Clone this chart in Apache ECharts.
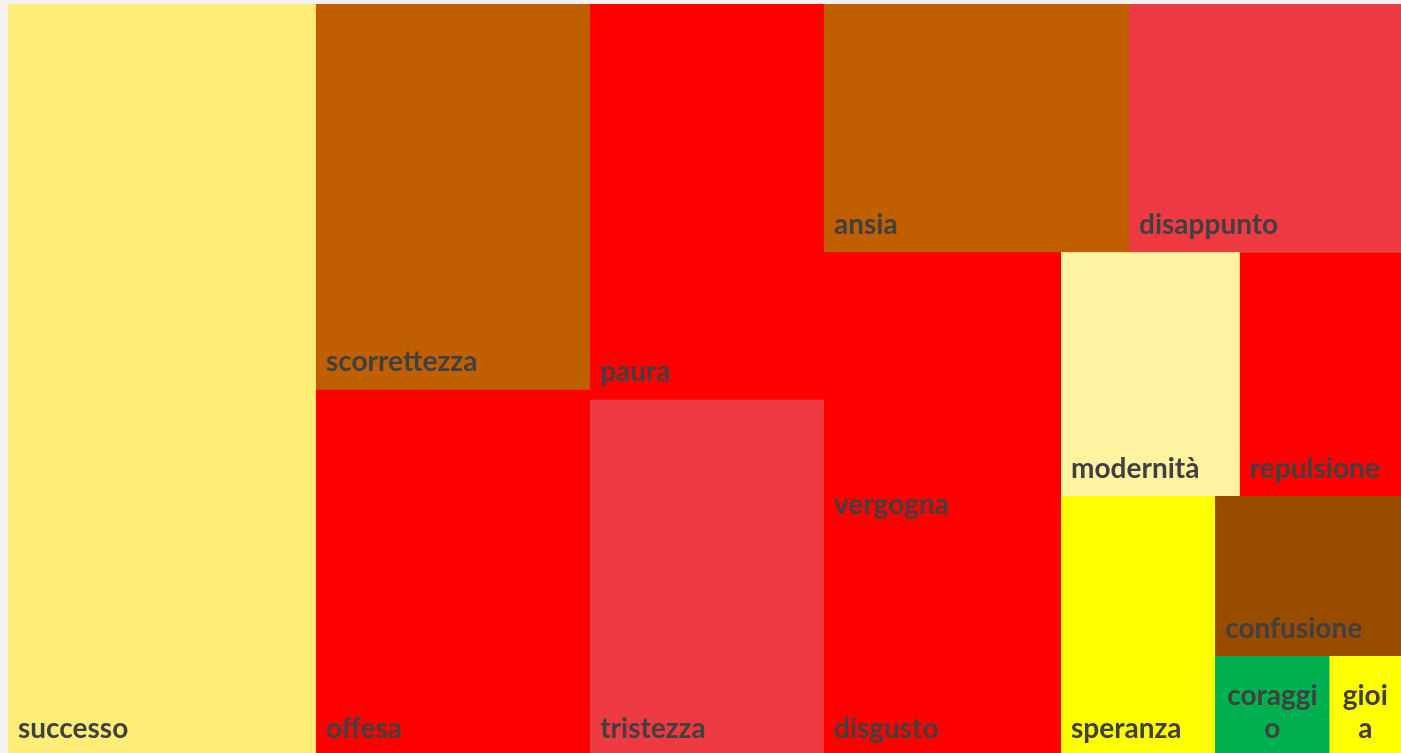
<!DOCTYPE html>
<html>
<head>
<meta charset="utf-8">
<script src="https://cdn.jsdelivr.net/npm/echarts@6/dist/echarts.min.js"></script>
<style>
  html, body { margin: 0; padding: 0; background: #f2f2f2; }
  #chart { width: 1401px; height: 753px; }
</style>
</head>
<body>
<div id="chart"></div>
<script>
// ---- data ----
const categories = ['successo', 'scorrettezza', 'offesa', 'paura', 'tristezza', 'ansia', 'disappunto',
  'vergogna', 'disgusto', 'modernità', 'repulsione', 'speranza', 'confusione', 'coraggio', 'gioia'];
const values = [64.8, 29.6, 28.1, 25.9, 23.3, 21.2, 18.9, 18.6, 14.8, 12.2, 11.0, 11.2, 8.3, 3.2, 2.0];
const colors = ['#FEEE78', '#BF5F00', '#FF0000', '#FF0000', '#EE3B43', '#BF5F00', '#EE3B43',
  '#FF0000', '#FF0000', '#FFF2A0', '#FF0000', '#FFFF00', '#994C00', '#00B050', '#FFFF00'];
// nesting of tiles (indices into categories) reproducing the original tile arrangement
const grouping = [0, [[1, 2], [[3, 4], [[5, 6], [[7, 8], [[9, 10], [11, [12, [13, 14]]]]]]]]];
const centeredLabels = ['coraggio', 'gioia'];

function firstLeaf(g) {
  return typeof g === 'number' ? g : firstLeaf(g[0]);
}

function build(g) {
  if (typeof g === 'number') {
    const node = {
      name: categories[g],
      value: values[g],
      itemStyle: { color: colors[g], borderColor: colors[g] }
    };
    if (centeredLabels.indexOf(categories[g]) >= 0) {
      node.label = { position: 'insideBottom', align: 'center' };
    }
    return node;
  }
  // group background matches its first tile so sub-pixel seams stay quiet
  return {
    name: '',
    itemStyle: { borderColor: colors[firstLeaf(g)] },
    children: g.map(build)
  };
}
const treeData = grouping.map(build);

const chart = echarts.init(document.getElementById('chart'));
chart.setOption({
  backgroundColor: '#f2f2f2',
  animation: false,
  series: [{
    type: 'treemap',
    left: 8,
    top: 4,
    width: 1393,
    height: 752,
    roam: false,
    nodeClick: false,
    sort: false,
    squareRatio: 1,
    visibleMin: 0,
    breadcrumb: { show: false },
    itemStyle: { borderWidth: 0, gapWidth: 0, borderColor: '#fff' },
    upperLabel: { show: false },
    label: {
      show: true,
      position: 'insideBottomLeft',
      distance: 0,
      padding: [0, 10, 11, 10],
      color: '#404040',
      fontFamily: 'Lato',
      fontWeight: 'bold',
      fontSize: 28,
      lineHeight: 33,
      overflow: 'breakAll'
    },
    emphasis: { disabled: true },
    data: treeData
  }]
});
</script>
</body>
</html>
